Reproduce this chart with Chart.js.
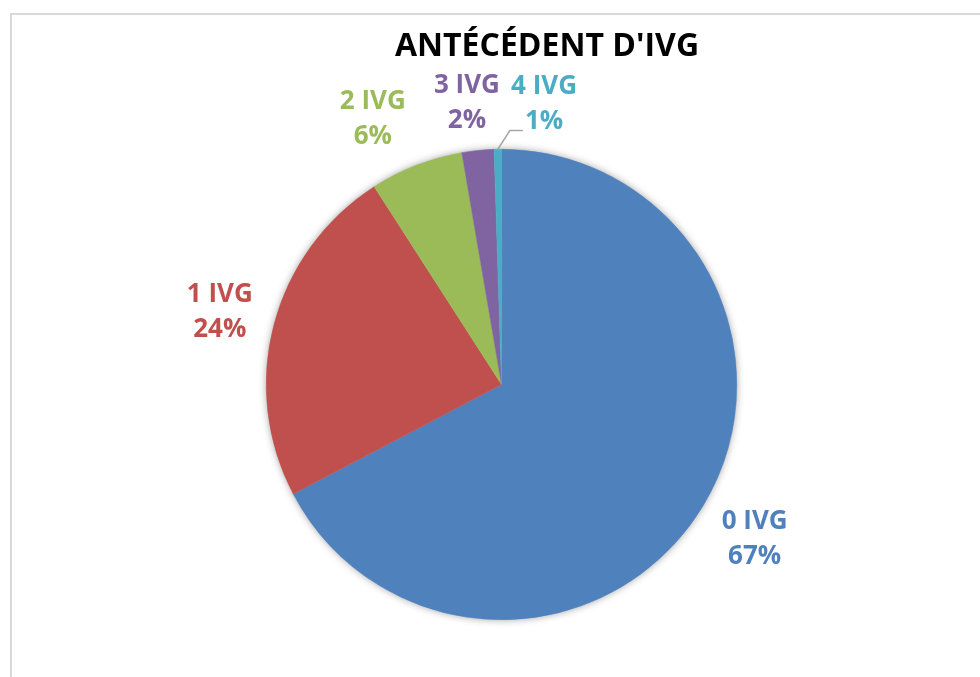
<!DOCTYPE html>
<html>
<head>
<meta charset="utf-8">
<script src="https://cdn.jsdelivr.net/npm/chart.js@4/dist/chart.umd.min.js"></script>
<style>
  html, body { margin: 0; padding: 0; background: #ffffff; }
  #wrap { width: 980px; height: 677px; position: relative; }
</style>
</head>
<body>
<div id="wrap"><canvas id="c" width="980" height="677"></canvas></div>
<script>
// ---- data ----
const chartTitle = "ANTÉCÉDENT D'IVG";
const categories = ["0 IVG", "1 IVG", "2 IVG", "3 IVG", "4 IVG"];
const shares = [67.3, 23.6, 6.4, 2.2, 0.5];
const sliceColors = ["#4F81BD", "#C0504D", "#9BBB59", "#8064A2", "#4BACC6"];

const FONT = "'Open Sans', 'Liberation Sans', sans-serif";

const framePlugin = {
  id: 'frame',
  beforeDraw(chart) {
    const ctx = chart.ctx;
    ctx.save();
    ctx.fillStyle = '#ffffff';
    ctx.fillRect(0, 0, chart.width, chart.height);
    ctx.strokeStyle = '#d9d9d9';
    ctx.lineWidth = 2;
    ctx.strokeRect(11, 14, chart.width + 20, chart.height + 20);
    // title
    ctx.fillStyle = '#000000';
    ctx.font = "bold 32px " + FONT;
    ctx.textAlign = 'center';
    ctx.textBaseline = 'alphabetic';
    ctx.fillText(chartTitle, 547, 56);
    ctx.restore();
  }
};

const shadowPlugin = {
  id: 'pieShadow',
  beforeDatasetsDraw(chart) {
    const arc = chart.getDatasetMeta(0).data[0];
    if (!arc) return;
    const p = arc.getProps(['x', 'y', 'outerRadius'], true);
    const ctx = chart.ctx;
    ctx.save();
    ctx.shadowColor = 'rgba(0,0,0,0.45)';
    ctx.shadowBlur = 9;
    ctx.shadowOffsetX = 0;
    ctx.shadowOffsetY = 0;
    ctx.fillStyle = '#ffffff';
    ctx.beginPath();
    ctx.arc(p.x, p.y, p.outerRadius - 1, 0, Math.PI * 2);
    ctx.fill();
    ctx.restore();
  }
};

const labelPlugin = {
  id: 'sliceLabels',
  afterDatasetsDraw(chart, args, opts) {
    const ctx = chart.ctx;
    const meta = chart.getDatasetMeta(0);
    const data = chart.data.datasets[0].data;
    const total = data.reduce((a, b) => a + b, 0);
    ctx.save();
    ctx.font = "bold 26px " + FONT;
    ctx.textAlign = 'center';
    ctx.textBaseline = 'alphabetic';
    meta.data.forEach((arc, i) => {
      const p = arc.getProps(['x', 'y', 'startAngle', 'endAngle', 'outerRadius'], true);
      const mid = (p.startAngle + p.endAngle) / 2;
      const ux = Math.cos(mid), uy = Math.sin(mid);
      const pct = Math.round(data[i] / total * 100 + 1e-6);
      const lines = [chart.data.labels[i], pct + '%'];
      const w = Math.max(...lines.map(l => ctx.measureText(l).width));
      const hw = w / 2, hh = opts.halfHeight;
      const tx = Math.abs(ux) > 1e-6 ? hw / Math.abs(ux) : Infinity;
      const ty = Math.abs(uy) > 1e-6 ? hh / Math.abs(uy) : Infinity;
      const d = p.outerRadius + opts.gap + Math.min(tx, ty);
      const n = opts.nudge[i] || [0, 0];
      const cx = p.x + ux * d + n[0];
      const cy = p.y + uy * d + n[1];
      ctx.fillStyle = sliceColors[i];
      const capH = 17.5;
      ctx.fillText(lines[0], cx, cy - opts.lineGap / 2 + capH / 2);
      ctx.fillText(lines[1], cx, cy + opts.lineGap / 2 + capH / 2);
      if (opts.leader[i]) {
        const ex = p.x + ux * p.outerRadius, ey = p.y + uy * p.outerRadius;
        const w2 = ctx.measureText(lines[1]).width;
        const hx = cx - w2 / 2 - 2, hy = cy + opts.lineGap / 2 + capH / 2 + 2;
        ctx.strokeStyle = '#a6a6a6';
        ctx.lineWidth = 1.5;
        ctx.beginPath();
        ctx.moveTo(ex, ey);
        ctx.lineTo(hx - 13, hy);
        ctx.lineTo(hx, hy);
        ctx.stroke();
      }
    });
    ctx.restore();
  }
};

new Chart(document.getElementById('c'), {
  type: 'pie',
  data: {
    labels: categories,
    datasets: [{
      data: shares,
      backgroundColor: sliceColors,
      borderColor: sliceColors,
      borderWidth: 0.5,
      hoverOffset: 0
    }]
  },
  options: {
    responsive: false,
    animation: false,
    layout: { padding: { top: 149, bottom: 57, left: 266, right: 243 } },
    plugins: {
      legend: { display: false },
      title: { display: false },
      tooltip: { enabled: false },
      sliceLabels: {
        gap: 22,
        halfHeight: 27,
        lineGap: 35,
        nudge: [[0, 0], [0, 0], [-25, 0], [-6, 0], [47, 2]],
        leader: [false, false, false, false, true]
      }
    }
  },
  plugins: [framePlugin, shadowPlugin, labelPlugin]
});
</script>
</body>
</html>
